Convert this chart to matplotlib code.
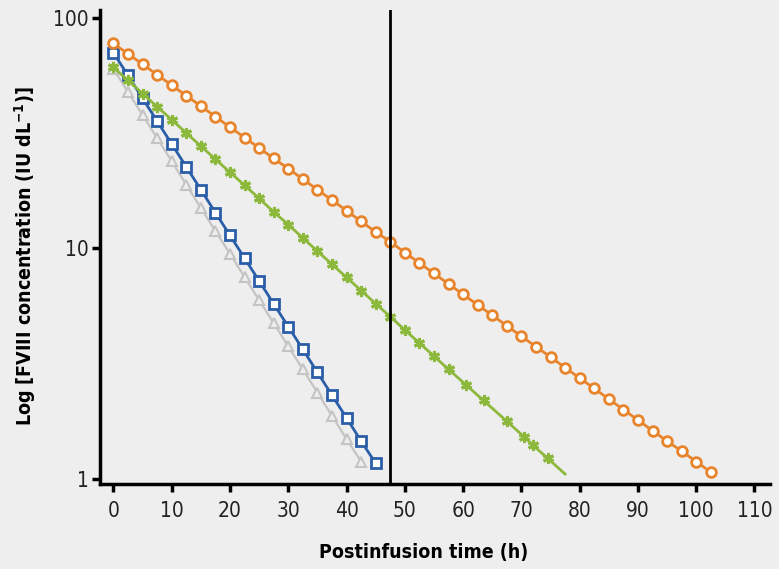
import matplotlib
matplotlib.use("Agg")
import matplotlib.pyplot as plt

# ---- data ----
orange_t = [0, 2.5, 5, 7.5, 10, 12.5, 15, 17.5, 20, 22.5, 25, 27.5, 30, 32.5, 35, 37.5,
            40, 42.5, 45, 47.5, 50, 52.5, 55, 57.5, 60, 62.5, 65, 67.5, 70, 72.5, 75, 77.5,
            80, 82.5, 85, 87.5, 90, 92.5, 95, 97.5, 100, 102.5]
orange_v = [77.6, 69.9, 63.0, 56.7, 51.1, 46.0, 41.5, 37.3, 33.6, 30.3, 27.3, 24.6, 22.2,
            20.0, 18.0, 16.2, 14.6, 13.1, 11.8, 10.7, 9.6, 8.65, 7.79, 7.02, 6.32, 5.69,
            5.13, 4.62, 4.16, 3.75, 3.38, 3.04, 2.74, 2.47, 2.22, 2.00, 1.80, 1.62, 1.46,
            1.32, 1.19, 1.07]

blue_t = [0, 2.5, 5, 7.5, 10, 12.5, 15, 17.5, 20, 22.5, 25, 27.5, 30, 32.5, 35, 37.5, 40, 42.5, 45]
blue_v = [70.7, 56.3, 44.8, 35.7, 28.4, 22.6, 18.0, 14.3, 11.4, 9.08, 7.23, 5.75, 4.58,
          3.65, 2.90, 2.31, 1.84, 1.46, 1.17]

gray_t = [0, 2.5, 5, 7.5, 10, 12.5, 15, 17.5, 20, 22.5, 25, 27.5, 30, 32.5, 35, 37.5, 40, 42.5]
gray_v = [60.1, 47.7, 37.9, 30.1, 23.9, 18.9, 15.0, 11.9, 9.48, 7.52, 5.97, 4.74, 3.76,
          2.99, 2.37, 1.88, 1.49, 1.19]

green_t = [0, 2.5, 5, 7.5, 10, 12.5, 15, 17.5, 20, 22.5, 25, 27.5, 30, 32.5, 35, 37.5,
           40, 42.5, 45, 47.5, 50, 52.5, 55, 57.5, 60.5, 63.5, 67.5, 70.5, 72, 74.5, 77.5]
green_v = [61.1, 53.6, 47.0, 41.2, 36.2, 31.7, 27.8, 24.4, 21.4, 18.8, 16.5, 14.4, 12.7,
           11.1, 9.74, 8.54, 7.49, 6.57, 5.76, 5.06, 4.43, 3.89, 3.41, 2.99, 2.56, 2.19,
           1.78, 1.52, 1.40, 1.23, 1.05]

vline_t = 47.5
x_ticks = [0, 10, 20, 30, 40, 50, 60, 70, 80, 90, 100, 110]
y_ticks = [1, 10, 100]
y_tick_labels = ["1", "10", "100"]
x_label = "Postinfusion time (h)"
y_label = "Log [FVIII concentration (IU dL$^{\\mathbf{-1}}$)]"

# ---- fonts ----
plt.rcParams["font.family"] = ["DejaVu Sans"]
plt.rcParams["font.stretch"] = "condensed"
plt.rcParams["mathtext.fontset"] = "dejavusans"

BG = "#eeeeee"
fig = plt.figure(figsize=(7.79, 5.69), dpi=100, facecolor=BG)
ax = fig.add_axes([0.1284, 0.1494, 0.988 - 0.1284, 0.9824 - 0.1494], facecolor=BG)

ax.plot(gray_t, gray_v, color="#c4c4c4", lw=1.6, marker="^", ms=7, mfc="#eeeeee",
        mec="#c4c4c4", mew=1.5, zorder=2)
ax.plot(blue_t, blue_v, color="#2b5ea8", lw=2.0, marker="s", ms=7, mfc="white",
        mec="#2b5ea8", mew=2.0, zorder=3)
ax.plot(green_t, green_v, color="#8cb83c", lw=2.0, marker=(6, 2, 0), ms=8,
        mec="#8cb83c", mew=2.2, markevery=list(range(len(green_t) - 1)), zorder=4)
ax.plot(orange_t, orange_v, color="#e8842c", lw=2.0, marker="o", ms=7, mfc="white",
        mec="#e8842c", mew=2.0, zorder=5)

ax.axvline(vline_t, color="black", lw=2, zorder=6)

ax.set_yscale("log")
ax.set_xlim(-2.3, 112.6)
ax.set_ylim(0.951, 108.3)
ax.set_xticks(x_ticks)
ax.set_xticklabels([str(v) for v in x_ticks])
ax.set_yticks(y_ticks)
ax.set_yticklabels(y_tick_labels)
ax.yaxis.set_minor_locator(matplotlib.ticker.NullLocator())

for s in ["top", "right"]:
    ax.spines[s].set_visible(False)
for s in ["left", "bottom"]:
    ax.spines[s].set_linewidth(2.5)
    ax.spines[s].set_color("black")

ax.tick_params(axis="both", which="major", direction="out", length=6, width=2.5,
               labelsize=15, labelcolor="#222222", color="black")
ax.tick_params(axis="x", pad=6)
ax.tick_params(axis="y", pad=2)

ax.set_xlabel(x_label, fontsize=14, fontweight="bold")
ax.set_ylabel(y_label, fontsize=14, fontweight="bold")
ax.xaxis.set_label_coords(0.483, -0.124)
ax.yaxis.set_label_coords(-0.092, 0.48)

fig.savefig("out.png", dpi=100, facecolor=BG)
